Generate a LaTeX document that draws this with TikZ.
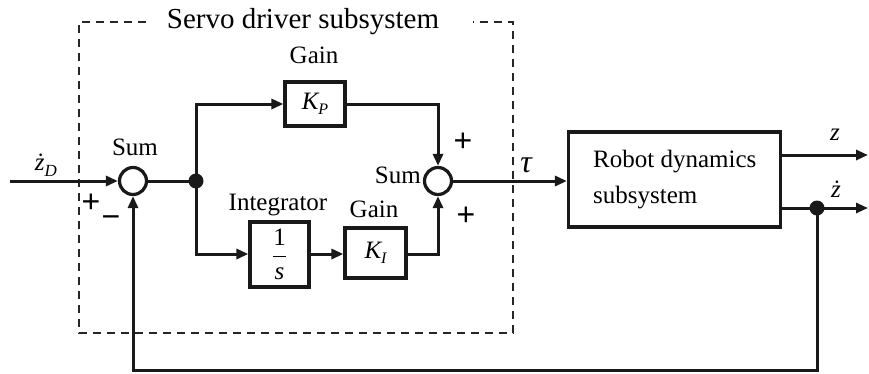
\documentclass[tikz,border=0pt]{standalone}
\usepackage{fontspec}
\setmainfont{Liberation Serif}
\newfontfamily\signfont{Liberation Sans}
\usetikzlibrary{arrows.meta}
\begin{document}
\begin{tikzpicture}[x=1pt,y=-1pt,
  ln/.style={line width=3pt,draw=black!90},
  arr/.style={ln,-{Triangle[length=12pt,width=10pt]}},
  blk/.style={draw=black!90,line width=3.2pt,fill=white,inner sep=0pt},
  sumc/.style={circle,draw=black!90,line width=3.2pt,minimum size=27pt,inner sep=0pt,fill=white},
  jdot/.style={circle,fill=black!90,minimum size=15pt,inner sep=0pt},
  lbl/.style={font=\fontsize{25}{30}\selectfont,inner sep=0pt},
  sgn/.style={font=\signfont\fontsize{32}{32}\selectfont,inner sep=0pt}]
\useasboundingbox (0,0) rectangle (869,373);
% dashed subsystem boundary
\draw[line width=2.3pt,draw=black!85,dash pattern=on 8pt off 6pt]
  (146,22) -- (79,22) -- (79,333) -- (513,333) -- (513,22) -- (473,22);
\node[font=\fontsize{29}{34}\selectfont,inner sep=0pt,anchor=base] (title) at (303,28) {Servo driver subsystem};
% blocks
\node[sumc] (sum1) at (133,181) {};
\node[jdot] (dot1) at (196,181) {};
\node[blk,minimum width=60pt,minimum height=44pt] (kp) at (315,104) {\fontsize{25}{30}\selectfont\itshape K\raisebox{-5pt}{\fontsize{16}{16}\selectfont P}};
\node[sumc] (sum2) at (438,181) {};
\node[blk,minimum width=59pt,minimum height=65pt] (integ) at (279.5,254.5) {\fontsize{25}{30}\selectfont$\displaystyle\frac{\mbox{1}}{\mbox{\itshape s}}$};
\node[blk,minimum width=61pt,minimum height=50pt] (ki) at (375.5,253) {\fontsize{25}{30}\selectfont\itshape K\raisebox{-5pt}{\fontsize{16}{16}\selectfont I}};
\node[blk,minimum width=212pt,minimum height=95pt] (robot) at (674.5,179.5) {};
\node[lbl,anchor=base west] (rt1) at (593,167) {Robot dynamics};
\node[lbl,anchor=base west] (rt2) at (593,203) {subsystem};
\node[jdot] (dot2) at (817,208) {};
\coordinate (in) at (10,181);
\coordinate (zout) at (868,155);
\coordinate (zdout) at (868,208);
\coordinate (fb) at (817,370);
% connectors
\draw[arr] (in) -- (sum1.west);
\draw[ln] (sum1.east) -- (dot1.center);
\draw[arr] (dot1.center) |- (kp.west);
\draw[arr] (dot1.center) |- (integ.west |- 0,254);
\draw[arr] (integ.east |- 0,254) -- (ki.west |- 0,254);
\draw[arr] (kp.east) -| (sum2.north);
\draw[arr] (ki.east |- 0,254) -| (sum2.south);
\draw[arr] (sum2.east) -- (sum2.east -| robot.west);
\draw[arr] (zout -| robot.east) -- (zout);
\draw[arr] (zdout -| robot.east) -- (zdout);
\draw[arr] (dot2.center) -- (fb) -| (sum1.south);
% labels
\node[lbl,anchor=base] (lzd) at (46,170) {\itshape ż\raisebox{-6pt}{\fontsize{17}{17}\selectfont D}};
\node[lbl,anchor=base] (ls1) at (135,155) {Sum};
\node[sgn] (p1) at (91,203) {+};
\node[sgn] (m1) at (111,222) {−};
\node[lbl,anchor=base] (lg1) at (314,63) {Gain};
\node[lbl,anchor=base east] (ls2) at (421,183) {Sum};
\node[sgn] (p2) at (463,142) {+};
\node[sgn] (p3) at (466,216) {+};
\node[lbl,anchor=base,font=\fontsize{32}{32}\selectfont] (ltau) at (526,172) {\itshape τ};
\node[lbl,anchor=base] (lint) at (278,210) {Integrator};
\node[lbl,anchor=base] (lg2) at (374,217) {Gain};
\node[lbl,anchor=base] (lz) at (835,140) {\itshape z};
\node[lbl,anchor=base] (lzd2) at (836,197) {\itshape ż};
\end{tikzpicture}
\end{document}
